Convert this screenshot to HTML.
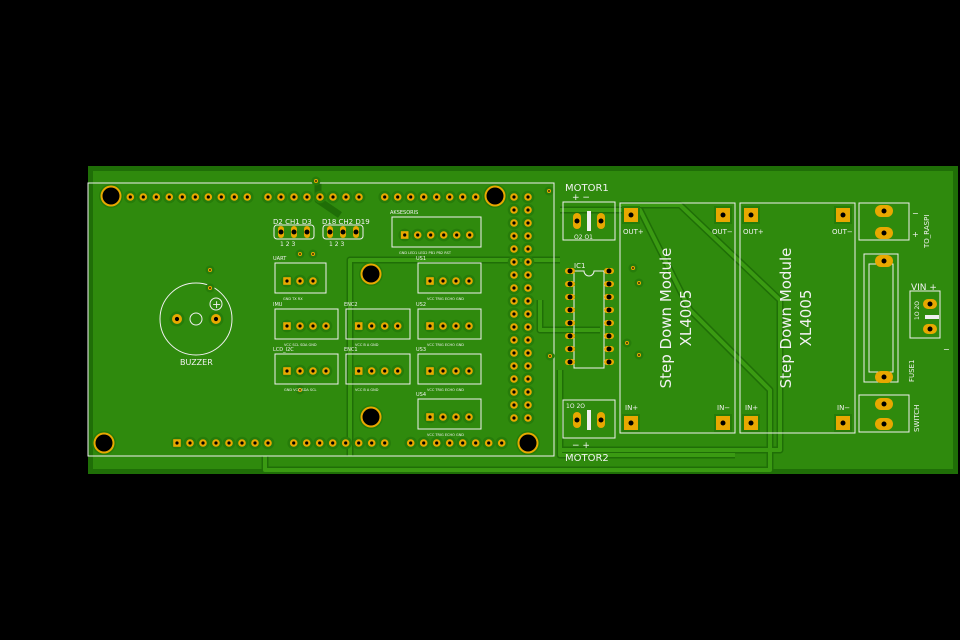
<!DOCTYPE html>
<html><head><meta charset="utf-8"><style>
html,body{margin:0;padding:0;background:#000;}
svg{display:block}
text{font-family:"DejaVu Sans","Liberation Sans",sans-serif;fill:#f2f2f2}
</style></head><body>
<svg id="s" width="960" height="640" viewBox="0 0 960 640" xmlns="http://www.w3.org/2000/svg">
<rect width="960" height="640" fill="#000"/>
<rect x="88" y="166" width="870" height="308" fill="#1f6e07"/>
<rect x="93" y="171" width="860" height="298" fill="#2f8a0d"/>
<g id="traces" fill="none" stroke="#1f6e07" stroke-width="7" stroke-linejoin="round">
<path d="M350 456 V260 H560"/>
<path d="M265 456 V470 H770 V390 L690 310 L640 210 H560"/>
<path d="M540 300 V330 H600"/>
<path d="M620 205 L680 205 L780 300 V450 H560"/>
<path d="M560 370 V455 H735"/>
<path d="M318 183 V200 L340 215"/>
</g>
<g fill="none" stroke="#3a9a12" stroke-width="4" stroke-linejoin="round">
<path d="M350 456 V260 H560"/>
<path d="M265 456 V470 H770 V390 L690 310 L640 210 H560"/>
<path d="M540 300 V330 H600"/>
<path d="M620 205 L680 205 L780 300 V450 H560"/>
<path d="M560 370 V455 H735"/>
</g>
<g fill="none" stroke="#f0f0f0" stroke-width="1">
<rect x="88" y="183" width="466" height="273"/>
<circle cx="196" cy="319" r="36"/>
<circle cx="196" cy="319" r="6"/>
<circle cx="216" cy="304" r="6"/>
<rect x="275" y="263" width="51" height="30"/>
<rect x="275" y="309" width="63" height="30"/>
<rect x="346" y="309" width="64" height="30"/>
<rect x="418" y="309" width="63" height="30"/>
<rect x="418" y="263" width="63" height="30"/>
<rect x="275" y="354" width="63" height="30"/>
<rect x="346" y="354" width="64" height="30"/>
<rect x="418" y="354" width="63" height="30"/>
<rect x="418" y="399" width="63" height="30"/>
<rect x="392" y="217" width="89" height="30"/>
<rect x="274" y="225" width="40" height="14" rx="3"/>
<rect x="323" y="225" width="40" height="14" rx="3"/>
<rect x="563" y="202" width="52" height="38"/>
<rect x="563" y="400" width="52" height="38"/>
<rect x="620" y="203" width="115" height="230"/>
<rect x="740" y="203" width="115" height="230"/>
<rect x="859" y="203" width="50" height="37"/>
<rect x="859" y="395" width="50" height="37"/>
<rect x="864" y="254" width="34" height="128"/>
<rect x="869" y="264" width="24" height="108"/>
<rect x="910" y="291" width="30" height="47"/>
<path d="M574 271 V368 H604 V271 H594 A5 5 0 0 1 584 271 Z"/>
</g>
<g id="g"></g>
<text x="273" y="224" font-size="7">D2 CH1 D3</text>
<text x="322" y="224" font-size="7">D18 CH2 D19</text>
<text x="280" y="246" font-size="6">1   2   3</text>
<text x="329" y="246" font-size="6">1   2   3</text>
<text x="390" y="214" font-size="5">AKSESORIS</text>
<text x="273" y="260" font-size="5">UART</text>
<text x="273" y="306" font-size="5">IMU</text>
<text x="344" y="306" font-size="5">ENC2</text>
<text x="416" y="260" font-size="5">US1</text>
<text x="416" y="306" font-size="5">US2</text>
<text x="273" y="351" font-size="5">LCD_I2C</text>
<text x="344" y="351" font-size="5">ENC1</text>
<text x="416" y="351" font-size="5">US3</text>
<text x="416" y="396" font-size="5">US4</text>
<text x="180" y="365" font-size="8">BUZZER</text>
<text x="212" y="308" font-size="11">+</text>
<g font-size="3.5">
<text x="399" y="254">GND LED1 LED2 PB1  PB2 RST</text>
<text x="283" y="300">GND   TX    RX</text>
<text x="284" y="346">VCC  SCL  SDA  GND</text>
<text x="284" y="391">GND  VCC  SDA  SCL</text>
<text x="355" y="346">VCC    B     A    GND</text>
<text x="355" y="391">VCC    B     A    GND</text>
<text x="427" y="300">VCC TRIG ECHO GND</text>
<text x="427" y="346">VCC TRIG ECHO GND</text>
<text x="427" y="391">VCC TRIG ECHO GND</text>
<text x="427" y="436">VCC TRIG ECHO GND</text>
</g>
<text x="565" y="191" font-size="10">MOTOR1</text>
<text x="565" y="461" font-size="10">MOTOR2</text>
<text x="572" y="200" font-size="9">+    −</text>
<text x="572" y="448" font-size="9">−    +</text>
<text x="574" y="239" font-size="6">O2  O1</text>
<text x="566" y="408" font-size="6">1O  2O</text>
<text x="574" y="268" font-size="7">IC1</text>
<g font-size="7">
<text x="623" y="234">OUT+</text><text x="712" y="234">OUT−</text>
<text x="743" y="234">OUT+</text><text x="832" y="234">OUT−</text>
<text x="625" y="410">IN+</text><text x="717" y="410">IN−</text>
<text x="745" y="410">IN+</text><text x="837" y="410">IN−</text>
</g>
<g font-size="15">
<text transform="translate(671,318) rotate(-90)" text-anchor="middle">Step Down Module</text>
<text transform="translate(691,318) rotate(-90)" text-anchor="middle">XL4005</text>
<text transform="translate(791,318) rotate(-90)" text-anchor="middle">Step Down Module</text>
<text transform="translate(811,318) rotate(-90)" text-anchor="middle">XL4005</text>
</g>
<text transform="translate(929,248) rotate(-90)" font-size="7">TO_RASPI</text>
<text x="912" y="216" font-size="8">−</text>
<text x="912" y="237" font-size="8">+</text>
<text x="911" y="290" font-size="9">VIN  +</text>
<text x="943" y="352" font-size="8">−</text>
<text transform="translate(919,320) rotate(-90)" font-size="6">1O  2O</text>
<text transform="translate(914,382) rotate(-90)" font-size="7">FUSE1</text>
<text transform="translate(919,432) rotate(-90)" font-size="7">SWITCH</text>
</svg>
<script>
var g=document.getElementById('g'),NS='http://www.w3.org/2000/svg';
function el(t,a){var e=document.createElementNS(NS,t);for(var k in a)e.setAttribute(k,a[k]);g.appendChild(e);return e;}
var Y='#e8a800';
function pin(x,y,sq,r){r=r||3.8;el('circle',{cx:x,cy:y,r:r+2.5,fill:'#267c0a'});
 if(sq)el('rect',{x:x-r,y:y-r,width:2*r,height:2*r,fill:Y});else el('circle',{cx:x,cy:y,r:r,fill:Y});
 el('circle',{cx:x,cy:y,r:r*0.42,fill:'#000'});}
function oval(x,y,w,h){el('rect',{x:x-w/2,y:y-h/2,width:w,height:h,rx:Math.min(w,h)/2,fill:Y});el('circle',{cx:x,cy:y,r:2.5,fill:'#000'});}
function hole(x,y){el('circle',{cx:x,cy:y,r:12,fill:'#267c0a'});el('circle',{cx:x,cy:y,r:10.5,fill:Y});el('circle',{cx:x,cy:y,r:8.5,fill:'#000'});}
[[111,196],[495,196],[104,443],[528,443],[371,274],[371,417]].forEach(function(p){hole(p[0],p[1]);});
for(var i=0;i<10;i++)pin(130.3+i*13,197);
for(i=0;i<8;i++)pin(268+i*13,197);
for(i=0;i<8;i++)pin(384.7+i*13,197);
for(i=0;i<18;i++){pin(514,197+i*13);pin(528,197+i*13);}
for(i=0;i<8;i++)pin(177+i*13,443,i==0);
for(i=0;i<8;i++)pin(293.7+i*13,443);
for(i=0;i<8;i++)pin(410.7+i*13,443);
pin(177,319,0,5);pin(216,319,0,5);pin(210,270,0,2);pin(210,288,0,2);
for(i=0;i<3;i++){oval(281+i*13,232,6,12);oval(330+i*13,232,6,12);}
pin(300,254,0,2);pin(313,254,0,2);pin(300,390,0,2);pin(316,181,0,2);
for(i=0;i<6;i++)pin(404.7+i*13,235,i==0);
for(i=0;i<3;i++)pin(287+i*13,281,i==0);
for(i=0;i<4;i++){pin(287+i*13,326,i==0);pin(358.7+i*13,326,i==0);pin(430+i*13,326,i==0);
pin(287+i*13,371,i==0);pin(358.7+i*13,371,i==0);pin(430+i*13,371,i==0);pin(430+i*13,417,i==0);pin(430+i*13,281,i==0);}
for(i=0;i<8;i++){oval(570,271+i*13,10,6);oval(609,271+i*13,10,6);}
pin(633,268,0,2);pin(639,283,0,2);pin(627,343,0,2);pin(639,355,0,2);pin(550,356,0,2);pin(549,191,0,2);
oval(577,221,8,16);oval(601,221,8,16);oval(577,420,8,16);oval(601,420,8,16);
el('rect',{x:587,y:211,width:4,height:20,fill:'#f0f0f0'});el('rect',{x:587,y:410,width:4,height:20,fill:'#f0f0f0'});
function sq(x,y){el('rect',{x:x-9,y:y-9,width:18,height:18,fill:'#267c0a'});el('rect',{x:x-7,y:y-7,width:14,height:14,fill:Y});el('circle',{cx:x,cy:y,r:2.5,fill:'#000'});}
[[631,215],[723,215],[631,423],[723,423],[751,215],[843,215],[751,423],[843,423]].forEach(function(p){sq(p[0],p[1]);});
oval(884,211,18,12);oval(884,233,18,12);oval(884,404,18,12);oval(884,424,18,12);
oval(884,261,18,12);oval(884,377,18,12);
oval(930,304,14,10);oval(930,329,14,10);
el('rect',{x:925,y:315,width:14,height:4,fill:'#f0f0f0'});
</script>
</body></html>
